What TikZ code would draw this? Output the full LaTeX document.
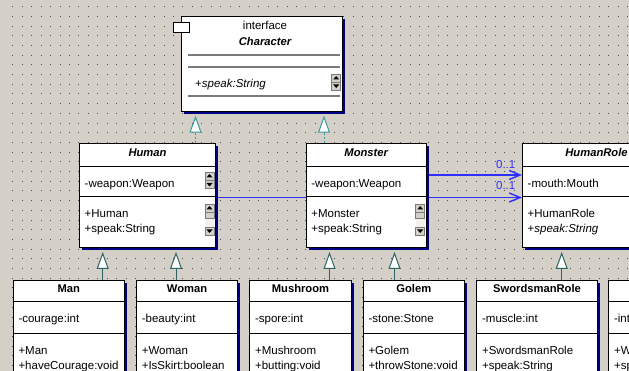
\documentclass[tikz,border=0pt]{standalone}
\usepackage{fontspec}
\setmainfont{Liberation Sans}
\usetikzlibrary{arrows.meta}

\definecolor{canvas}{HTML}{D4D0C8}
\definecolor{griddot}{HTML}{4A4A4A}
\definecolor{shadowblue}{HTML}{000080}
\definecolor{assocblue}{HTML}{2E2EFF}
\definecolor{realteal}{HTML}{3A9A9A}
\definecolor{genteal}{HTML}{2F6262}
\definecolor{btnface}{HTML}{D4D0C8}
\definecolor{btnedge}{HTML}{7A7A7A}
\definecolor{trackc}{HTML}{F2F1EE}

\pgfdeclarelayer{grid}
\pgfdeclarelayer{links}
\pgfsetlayers{grid,links,main}

\tikzset{
  cls/.style={draw=black, line width=1pt, fill=white, inner sep=0pt,
    preaction={fill=shadowblue, transform canvas={shift={(2.5pt,-2.5pt)}}}},
  sep/.style={line width=1pt, black},
  isep/.style={line width=1.6pt, color=btnedge},
  txt/.style={inner sep=0pt, anchor=base west, font=\fontsize{11.5}{13}\selectfont},
  ttl/.style={inner sep=0pt, anchor=base, font=\fontsize{11.2}{13}\selectfont\bfseries},
  ttli/.style={inner sep=0pt, anchor=base, font=\fontsize{11.2}{13}\selectfont\bfseries\itshape},
  realize/.style={realteal, line width=1pt, dash pattern=on 2pt off 2pt,
    -{Triangle[length=17pt,width=12pt,fill=white]}, shorten >=4pt},
  general/.style={genteal, line width=1pt,
    -{Triangle[length=17pt,width=12pt,fill=white]}, shorten >=4pt},
  assoc/.style={draw=assocblue, line width=1.4pt, -{Straight Barb[length=11pt,width=9pt]}},
  mult/.style={assocblue, inner sep=0pt, anchor=base, font=\fontsize{11.5}{13}\selectfont},
  btn/.style={fill=btnface, draw=btnedge, line width=0.6pt},
}

% scroll buttons: top-left corner given
\newcommand{\upbtn}[2]{%
  \filldraw[btn] (#1,#2) rectangle ++(9,8);
  \fill[black] (#1+4.5,#2+2) -- (#1+7.5,#2+5.5) -- (#1+1.5,#2+5.5) -- cycle;}
\newcommand{\dnbtn}[2]{%
  \filldraw[btn] (#1,#2) rectangle ++(9,8);
  \fill[black] (#1+4.5,#2+6) -- (#1+7.5,#2+2.5) -- (#1+1.5,#2+2.5) -- cycle;}
% full scroll column of an operations compartment
\newcommand{\opscroll}[1]{%
  \fill[trackc] (#1,211) rectangle ++(9,17);
  \upbtn{#1}{204}
  \filldraw[btn] (#1,212) rectangle ++(9,6);
  \dnbtn{#1}{227}}

% class in the middle row: name, left, width, title, attribute, op1, op2, title style
\newcommand{\midclass}[8]{%
  \node[cls, anchor=north west, minimum width=#3pt, minimum height=104pt] (#1) at (#2,143) {};
  \draw[sep] ([yshift=-23.7pt]#1.north west) -- ([yshift=-23.7pt]#1.north east);
  \draw[sep] ([yshift=-54pt]#1.north west) -- ([yshift=-54pt]#1.north east);
  \node[#8] (#1-t) at ([yshift=-13.7pt]#1.north) {#4};
  \node[txt] (#1-a) at ([xshift=5.5pt,yshift=-44.3pt]#1.north west) {#5};
  \node[txt] (#1-o1) at ([xshift=5.5pt,yshift=-74.7pt]#1.north west) {#6};
  \node[txt] (#1-o2) at ([xshift=5.5pt,yshift=-90pt]#1.north west) {#7};}

% class in the bottom row: name, left, width, title, attribute, op1, op2
\newcommand{\lowclass}[7]{%
  \node[cls, anchor=north west, minimum width=#3pt, minimum height=130pt] (#1) at (#2,279.7) {};
  \draw[sep] ([yshift=-22pt]#1.north west) -- ([yshift=-22pt]#1.north east);
  \draw[sep] ([yshift=-54pt]#1.north west) -- ([yshift=-54pt]#1.north east);
  \node[ttl] (#1-t) at ([yshift=-13pt]#1.north) {#4};
  \node[txt] (#1-a) at ([xshift=5.6pt,yshift=-42.6pt]#1.north west) {#5};
  \node[txt] (#1-o1) at ([xshift=5.6pt,yshift=-74.6pt]#1.north west) {#6};
  \node[txt] (#1-o2) at ([xshift=5.6pt,yshift=-89.5pt]#1.north west) {#7};}

\begin{document}
\begin{tikzpicture}[x=1pt, y=-1pt]
\useasboundingbox (0,0) rectangle (629,371);

% canvas with dotted grid
\begin{pgfonlayer}{grid}
  \clip (0,0) rectangle (629,371);
  \fill[canvas] (0,0) rectangle (629,371);
  \foreach \i in {0,...,65}
    \foreach \j in {0,...,37}
      \fill[griddot] (12.2+9.46*\i, 6.2+9.7*\j) rectangle ++(1,1);
\end{pgfonlayer}

\clip (0,0) rectangle (629,371);

% interface Character
\node[cls, anchor=north west, minimum width=160.7pt, minimum height=94.7pt] (Character) at (181,16) {};
\draw[isep] (188,55) -- (340,55);
\draw[isep] (188,67.3) -- (340,67.3);
\draw[isep] (188,96) -- (340,96);
\node[inner sep=0pt, anchor=base, font=\fontsize{11.5}{13}\selectfont] (Character-s) at (265,29.5) {interface};
\node[ttli] (Character-t) at (265,45.7) {Character};
\node[txt] (Character-o) at (195,87.5) {+\textit{speak:String}};
\upbtn{331.7}{74}
\dnbtn{331.7}{82}
\fill[shadowblue] (173.3,30.5) rectangle (181,33);
\node[draw=black, fill=white, line width=1pt, inner sep=0pt, anchor=north west,
      minimum width=16pt, minimum height=9.4pt] (icon) at (173.3,22.3) {};

% middle row
\midclass{Human}{79}{136}{Human}{-weapon:Weapon}{+Human}{+speak:String}{ttli}
\upbtn{205}{172}
\dnbtn{205}{180.5}
\opscroll{205}
\midclass{Monster}{305.7}{120}{Monster}{-weapon:Weapon}{+Monster}{+speak:String}{ttli}
\opscroll{415.7}
\midclass{HumanRole}{522}{148}{HumanRole}{-mouth:Mouth}{+HumanRole}{+\textit{speak:String}}{ttli}

% bottom row
\lowclass{Man}{12.7}{111.3}{Man}{-courage:int}{+Man}{+haveCourage:void}
\lowclass{Woman}{136}{101}{Woman}{-beauty:int}{+Woman}{+IsSkirt:boolean}
\lowclass{Mushroom}{249.3}{101.4}{Mushroom}{-spore:int}{+Mushroom}{+butting:void}
\lowclass{Golem}{362.7}{101.3}{Golem}{-stone:Stone}{+Golem}{+throwStone:void}
\lowclass{SwordsmanRole}{476.3}{120.4}{SwordsmanRole}{-muscle:int}{+SwordsmanRole}{+speak:String}
\lowclass{WizardRole}{608.3}{120}{}{-intelligence:int}{+WizardRole}{+speak:String}

% connector routes
\coordinate (rx1) at (195.5,0);
\coordinate (rx2) at (324,0);
\coordinate (gx1) at (102.7,0);
\coordinate (gx2) at (176,0);
\coordinate (gx3) at (329.5,0);
\coordinate (gx4) at (394.5,0);
\coordinate (gx5) at (561.7,0);
\coordinate (ay1) at (0,175);
\coordinate (ay2) at (0,197.5);

\begin{pgfonlayer}{links}
  \draw[realize] (Human.north -| rx1) -- (Character.south -| rx1);
  \draw[realize] (Monster.north -| rx2) -- (Character.south -| rx2);
  \draw[general] (Man.north -| gx1) -- (Human.south -| gx1);
  \draw[general] (Woman.north -| gx2) -- (Human.south -| gx2);
  \draw[general] (Mushroom.north -| gx3) -- (Monster.south -| gx3);
  \draw[general] (Golem.north -| gx4) -- (Monster.south -| gx4);
  \draw[general] (SwordsmanRole.north -| gx5) -- (HumanRole.south -| gx5);
  \draw[assoc] (Monster.east |- ay1) -- (HumanRole.west |- ay1);
  \draw[assoc] (Human.east |- ay2) -- (HumanRole.west |- ay2);
\end{pgfonlayer}
\node[mult] (mult1) at (505.7,168.3) {0..1};
\node[mult] (mult2) at (505.7,189.5) {0..1};
\end{tikzpicture}
\end{document}
